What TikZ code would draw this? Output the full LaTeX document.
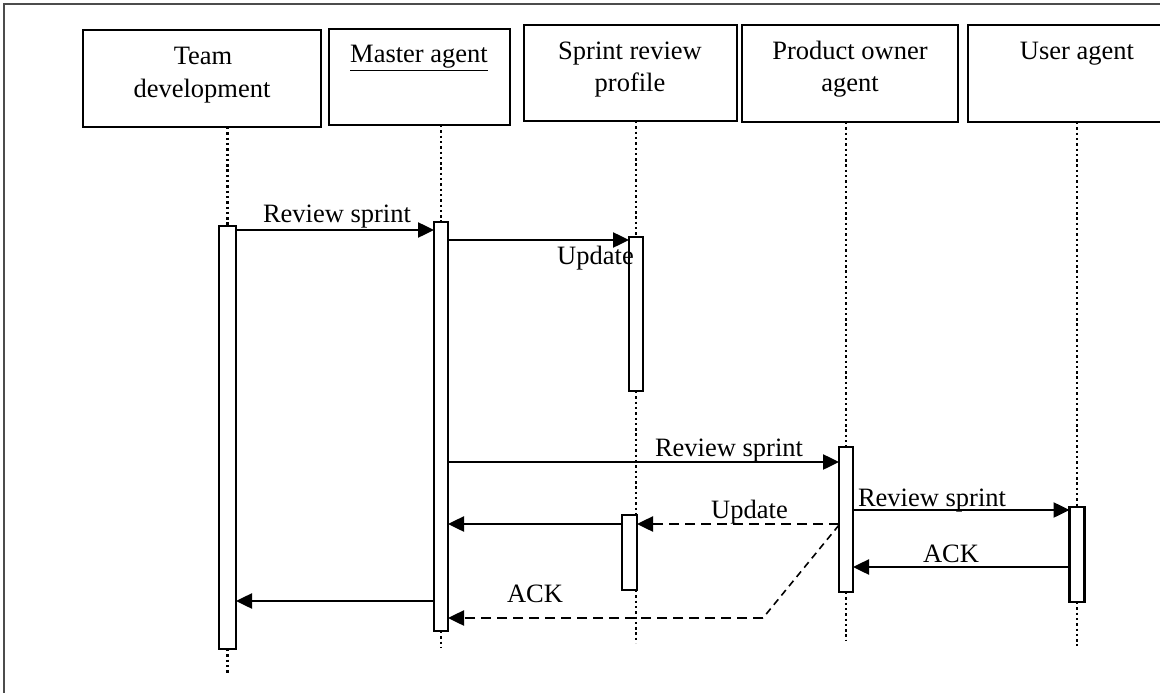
\documentclass[tikz,border=0pt]{standalone}
\usepackage{fontspec}
\setmainfont{Liberation Serif}
\usetikzlibrary{arrows.meta}
\begin{document}
\begin{tikzpicture}[x=1pt,y=-1pt,
  lbl/.style={font=\fontsize{26.5}{32}\selectfont, inner sep=0pt, anchor=base},
  head/.style={draw, line width=2.3pt, inner sep=0pt, outer sep=0pt},
  life/.style={line width=2.7pt, dash pattern=on 2.4pt off 2.9pt},
  act/.style={draw, fill=white, line width=2.1pt, inner sep=0pt, outer sep=0pt},
  msg/.style={line width=2.5pt, -{Triangle[length=16pt,width=15pt]}},
  reply/.style={msg, dash pattern=on 10pt off 6pt},
]
\useasboundingbox (0,0) rectangle (1160,693);
\clip (0,0) rectangle (1160,693);

% outer frame (runs off the right and bottom edges)
\draw[line width=1.8pt, black!70] (1200,4) -- (4,4) -- (4,720);

% participant heads
\node[head, minimum width=238pt, minimum height=97pt] (tbox) at (202,78.5) {};
\node[head, minimum width=181pt, minimum height=96pt] (mbox) at (419.5,77) {};
\node[head, minimum width=213pt, minimum height=96pt] (sbox) at (630.5,73) {};
\node[head, minimum width=216pt, minimum height=97pt] (pbox) at (850,73.5) {};
\node[head, minimum width=218pt, minimum height=97pt] (ubox) at (1077,73.5) {};

\node[lbl] (tname1) at (203,65) {Team};
\node[lbl] (tname2) at (202,97) {development};
\node[lbl] (mname) at (419,63) {\underline{Master agent}};
\node[lbl] (sname1) at (630,60) {Sprint review};
\node[lbl] (sname2) at (630,92) {profile};
\node[lbl] (pname1) at (850,60) {Product owner};
\node[lbl] (pname2) at (850,92) {agent};
\node[lbl] (uname) at (1077,60) {User agent};

% activation bars
\node[act, minimum width=17pt, minimum height=423pt] (ta) at (227.5,437.5) {};
\node[act, minimum width=14pt, minimum height=409pt] (ma) at (441,426.5) {};
\node[act, minimum width=14pt, minimum height=154pt] (sa1) at (636,314) {};
\node[act, minimum width=15pt, minimum height=75pt] (sa2) at (629.5,552.5) {};
\node[act, minimum width=14pt, minimum height=145pt] (pa) at (846,519.5) {};
\node[act, minimum width=15pt, minimum height=95pt] (ua) at (1077,554.5) {};

% lifeline ends
\coordinate (tend) at (227.5,673);
\coordinate (mend) at (441,648);
\coordinate (send) at (636,643);
\coordinate (pend) at (846,640);
\coordinate (uend) at (1077,646);

% lifelines
\draw[life] (tbox.south -| ta.center) -- (ta.north);
\draw[life] (ta.south) -- (tend);
\draw[life] (mbox.south -| ma.center) -- (ma.north);
\draw[life] (ma.south) -- (mend);
\draw[life] (sbox.south -| sa1.center) -- (sa1.north);
\draw[life] (sa1.south) -- (sa2.north -| sa1.center);
\draw[life] (sa2.south -| sa1.center) -- (send);
\draw[life] (pbox.south -| pa.center) -- (pa.north);
\draw[life] (pa.south) -- (pend);
\draw[life] (ubox.south -| ua.center) -- (ua.north);
\draw[life] (ua.south) -- (uend);
\draw[act] (sa2.north west) rectangle (sa2.south east);

% messages
\draw[msg] (ta.east |- 0,230) -- (ma.west |- 0,230);
\draw[msg] (ma.east |- 0,240) -- (sa1.west |- 0,240);
\draw[msg] (ma.east |- 0,462) -- (pa.west |- 0,462);
\draw[msg] (pa.east |- 0,510) -- (ua.west |- 0,510);
\draw[msg] (ua.west |- 0,567) -- (pa.east |- 0,567);
\draw[reply] (pa.west |- 0,524) -- (sa2.east |- 0,524);
\draw[msg] (sa2.west |- 0,524) -- (ma.east |- 0,524);
\coordinate (bend) at (763,618);
\draw[line width=1.6pt, dash pattern=on 7pt off 5pt] (pa.west |- 0,525) -- (bend);
\draw[reply] (bend) -- (ma.east |- bend);
\draw[msg] (ma.west |- 0,601) -- (ta.east |- 0,601);

% message labels
\node[lbl] (l1) at (337,222) {Review sprint};
\node[lbl] (l2) at (595.5,264) {Update};
\node[lbl] (l3) at (729,456) {Review sprint};
\node[lbl] (l4) at (932,506) {Review sprint};
\node[lbl] (l5) at (951,562) {ACK};
\node[lbl] (l6) at (749.5,518) {Update};
\node[lbl] (l7) at (535,602) {ACK};
\end{tikzpicture}
\end{document}
